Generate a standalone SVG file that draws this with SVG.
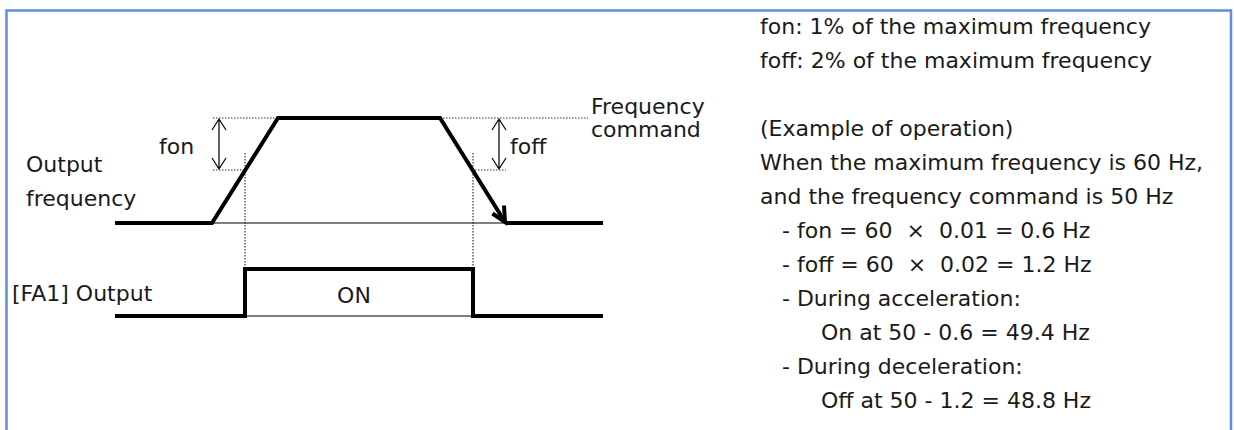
<svg xmlns="http://www.w3.org/2000/svg" width="1234" height="430" viewBox="0 0 1234 430">
<defs>
<style>
text{font-family:"DejaVu Sans","Noto Sans",sans-serif;font-size:22px;fill:#1a1a1a;white-space:pre}
.thick{fill:none;stroke:#000;stroke-width:4;stroke-linejoin:miter}
.thin{fill:none;stroke:#000;stroke-width:1.2}
.dot{fill:none;stroke:#333;stroke-width:1.2;stroke-dasharray:1.5 1.5}
.dim{fill:none;stroke:#000;stroke-width:1.2}
</style>
</defs>
<rect width="1234" height="430" fill="#fff"/>
<path d="M6.5,432 V10.5 H1231 V432" fill="none" stroke="#5f8fd2" stroke-width="2.5"/>

<g id="connectors">
<path class="dot" d="M213,118 H278 M440,118 H588 M213,170 H243 M475,170 H506 M245,153 V269 M473,153 V269"/>
<path class="dim" d="M219,119 V169 M212,130 L219,119 L226,130 M212,158 L219,169 L226,158"/>
<path class="dim" d="M499,119 V169 M492,130 L499,119 L506,130 M492,158 L499,169 L506,158"/>
</g>

<g id="output-frequency">
<path class="thin" d="M212,223 H506"/>
<path class="thick" d="M115,223 H212 L278,118 H440 L505,222"/>
<path class="thick" d="M506,223 H603"/>
<path class="thick" d="M492.5,213.5 L505,222 L504,205.5"/>
<text x="26" y="172">Output</text>
<text x="26" y="206">frequency</text>
<text x="159" y="154">fon</text>
<text x="510" y="154">foff</text>
<text x="591" y="114">Frequency</text>
<text x="591" y="137">command</text>
</g>

<g id="fa1-output">
<path class="thin" d="M245,316 H473"/>
<path class="thick" d="M115,316 H245 V269 H473 V316 H603"/>
<text x="12" y="301">[FA1] Output</text>
<text x="354" y="303" text-anchor="middle">ON</text>
</g>

<g id="notes">
<text x="760" y="34">fon: 1% of the maximum frequency</text>
<text x="760" y="68">foff: 2% of the maximum frequency</text>
<text x="760" y="136">(Example of operation)</text>
<text x="760" y="170">When the maximum frequency is 60 Hz,</text>
<text x="760" y="204">and the frequency command is 50 Hz</text>
<text x="782" y="238">- fon = 60  ×  0.01 = 0.6 Hz</text>
<text x="782" y="272">- foff = 60  ×  0.02 = 1.2 Hz</text>
<text x="782" y="306">- During acceleration:</text>
<text x="821" y="340">On at 50 - 0.6 = 49.4 Hz</text>
<text x="782" y="374">- During deceleration:</text>
<text x="821" y="408">Off at 50 - 1.2 = 48.8 Hz</text>
</g>
</svg>
